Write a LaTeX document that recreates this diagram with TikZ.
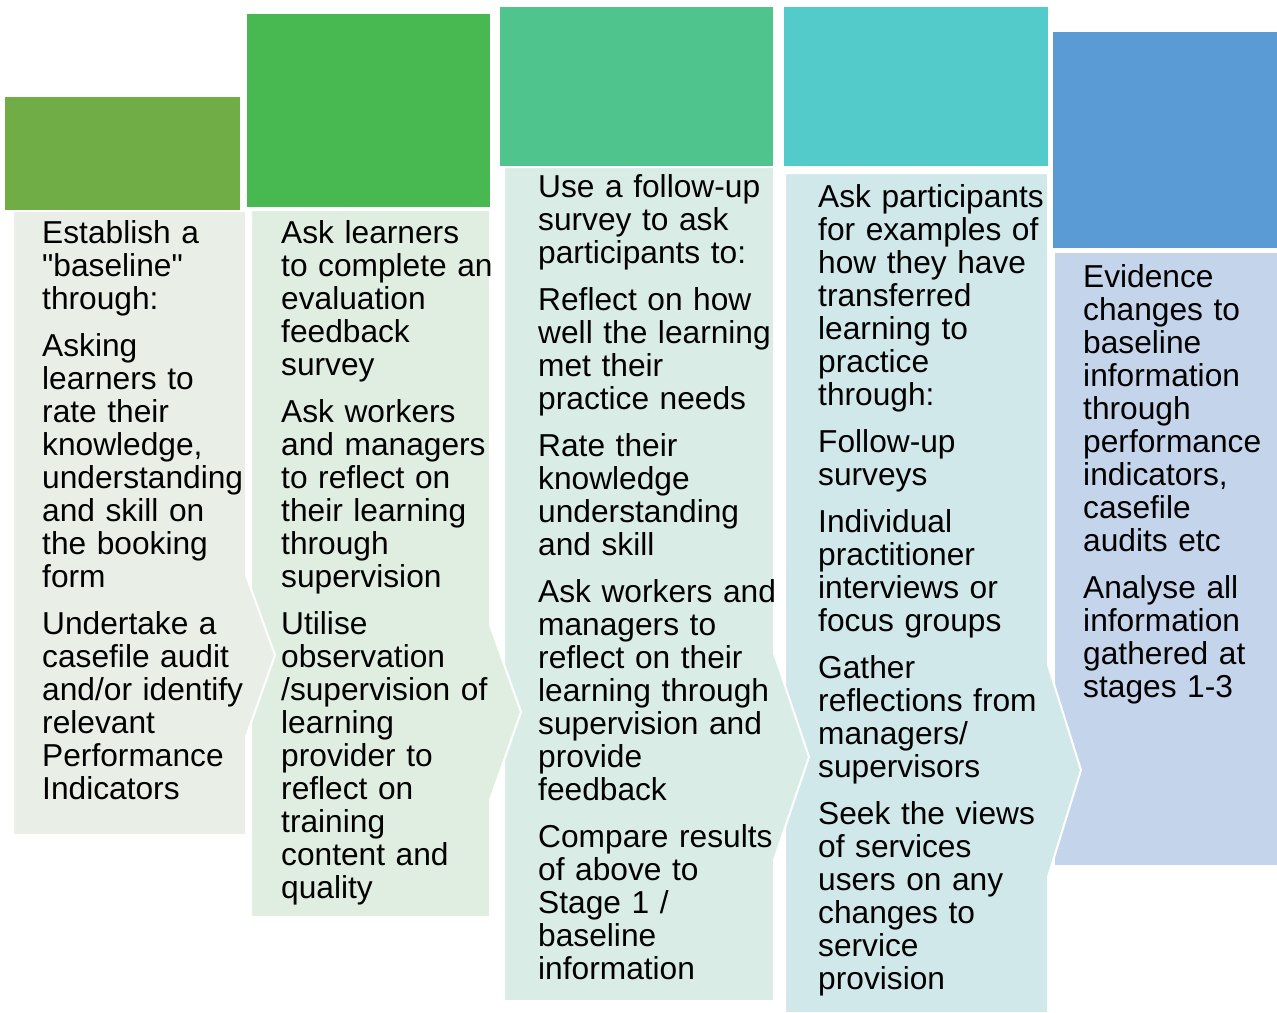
\documentclass[tikz,border=0pt]{standalone}
\usepackage{fontspec}
% body family without the TeX ligature mapping, so quotes stay straight
\newfontfamily\bodyfont{Liberation Sans}
\definecolor{hA}{HTML}{70AD47}
\definecolor{hB}{HTML}{48B950}
\definecolor{hC}{HTML}{4FC48C}
\definecolor{hD}{HTML}{53CBCB}
\definecolor{hE}{HTML}{5B9BD5}
\definecolor{pA}{HTML}{E9EFE7}
\definecolor{pB}{HTML}{E0EEE1}
\definecolor{pC}{HTML}{D9EDE6}
\definecolor{pD}{HTML}{D0E8EA}
\definecolor{pE}{HTML}{C4D4EA}
\begin{document}
\begin{tikzpicture}[x=1pt,y=-1pt,
  header/.style={draw=none, inner sep=0pt, outer sep=0pt, anchor=north west},
  panel/.style={draw=white, line width=2pt, line join=miter},
  body/.style={anchor=base west, inner sep=0pt, text width=300pt, align=left,
    font=\bodyfont\fontsize{31.7}{33}\selectfont, text=black}]
\useasboundingbox (0,0) rectangle (1277,1012);

% coloured header blocks
\node[header, fill=hA, minimum width=235pt, minimum height=113pt] (h1) at (5,97) {};
\node[header, fill=hB, minimum width=243pt, minimum height=193pt] (h2) at (247,14) {};
\node[header, fill=hC, minimum width=273pt, minimum height=159pt] (h3) at (500,7) {};
\node[header, fill=hD, minimum width=264pt, minimum height=159pt] (h4) at (784,7) {};
\node[header, fill=hE, minimum width=224pt, minimum height=216pt] (h5) at (1053,32) {};

% text panels, right to left so each arrow tip lies over its neighbour
\fill[pE] (1055,253) rectangle (1278,865);
\path[panel, fill=pD] (785,173) -- (1048,173) -- (1048,665) -- (1081,770) -- (1048,877)
  -- (1048,1013) -- (785,1013) -- cycle;
\path[panel, fill=pC] (504,167) -- (774,167) -- (774,653) -- (809,757) -- (774,860)
  -- (774,1001) -- (504,1001) -- cycle;
\path[panel, fill=pB] (251,210) -- (490,210) -- (490,625) -- (521,712) -- (490,800)
  -- (490,917) -- (251,917) -- cycle;
\path[panel, fill=pA] (13,211) -- (246,211) -- (246,575) -- (275,655) -- (246,737)
  -- (246,835) -- (13,835) -- cycle;

% panel texts
\node[body] (t1) at (42,243) {Establish a\\"baseline"\\through:\\[14pt]
Asking\\learners to\\rate their\\knowledge,\\understanding\\and skill on\\the booking\\form\\[14pt]
Undertake a\\casefile audit\\and/or identify\\relevant\\Performance\\Indicators};

\node[body] (t2) at (281,243) {Ask learners\\to complete an\\evaluation\\feedback\\survey\\[14pt]
Ask workers\\and managers\\to reflect on\\their learning\\through\\supervision\\[14pt]
Utilise\\observation\\/supervision of\\learning\\provider to\\reflect on\\training\\content and\\quality};

\node[body] (t3) at (538,197) {Use a follow-up\\survey to ask\\participants to:\\[14pt]
Reflect on how\\well the learning\\met their\\practice needs\\[14pt]
Rate their\\knowledge\\understanding\\and skill\\[14pt]
Ask workers and\\managers to\\reflect on their\\learning through\\supervision and\\provide\\feedback\\[14pt]
Compare results\\of above to\\Stage 1 /\\baseline\\information};

\node[body] (t4) at (818,207) {Ask participants\\for examples of\\how they have\\transferred\\learning to\\practice\\through:\\[14pt]
Follow-up\\surveys\\[14pt]
Individual\\practitioner\\interviews or\\focus groups\\[14pt]
Gather\\reflections from\\managers/\\supervisors\\[14pt]
Seek the views\\of services\\users on any\\changes to\\service\\provision};

\node[body] (t5) at (1083,287) {Evidence\\changes to\\baseline\\information\\through\\performance\\indicators,\\casefile\\audits etc\\[14pt]
Analyse all\\information\\gathered at\\stages 1-3};
\end{tikzpicture}
\end{document}
